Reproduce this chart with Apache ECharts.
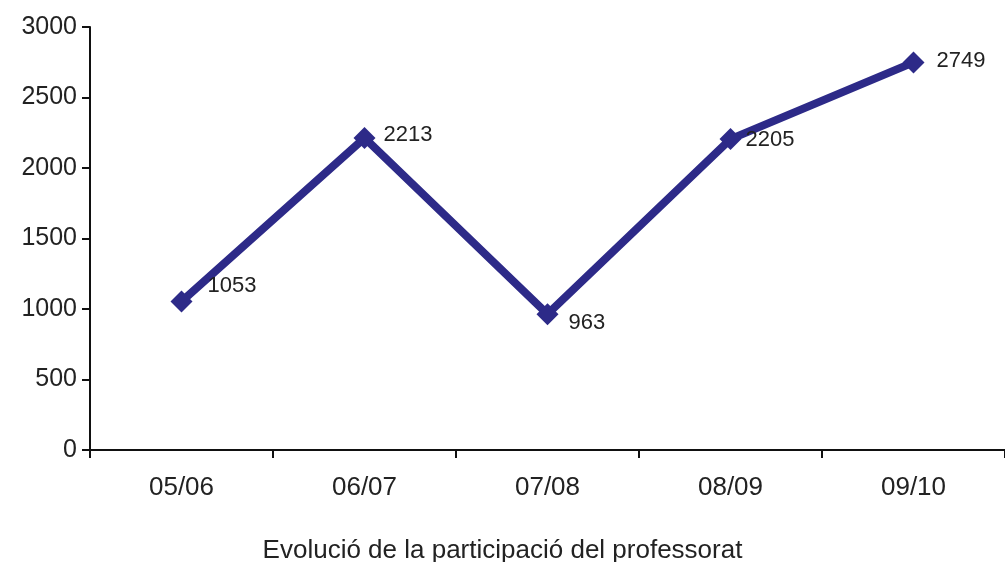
<!DOCTYPE html>
<html style="height: 100%">
<head>
<meta charset="utf-8">
<script src="https://cdn.jsdelivr.net/npm/echarts@6/dist/echarts.min.js"></script>
</head>
<body style="height: 100%; margin: 0; background: #fff">
<div id="container" style="width: 1005px; height: 562px"></div>
<script type="text/javascript">
var years = ['05/06', '06/07', '07/08', '08/09', '09/10'];
var teachers = [1053, 2213, 963, 2205, 2749];
var yTicks = [0, 500, 1000, 1500, 2000, 2500, 3000];
var caption = 'Evolució de la participació del professorat';

// nudges for the value labels, one per point
var nudge = [[3, -16], [-4, -3], [-2, 9], [-8, 1], [0, -1]];

var chart = echarts.init(document.getElementById('container'));
var font = 'Liberation Sans, Arial, sans-serif';

var option = {
    animation: false,
    title: {
        text: caption,
        left: 'center',
        top: 533,
        textStyle: { fontFamily: font, fontSize: 26, fontWeight: 'normal', color: '#222' }
    },
    grid: { left: 90, right: -3, top: 27, bottom: 112 },
    xAxis: {
        type: 'category',
        data: years,
        boundaryGap: true,
        axisLine: { lineStyle: { color: '#111', width: 2 } },
        axisTick: { show: true, length: 8, lineStyle: { color: '#111', width: 2 } },
        axisLabel: { fontFamily: font, fontSize: 26, color: '#222', margin: 25 }
    },
    yAxis: {
        type: 'value',
        min: yTicks[0],
        max: yTicks[yTicks.length - 1],
        interval: 500,
        splitLine: { show: false },
        axisLine: { show: true, lineStyle: { color: '#111', width: 2 } },
        axisTick: { show: true, length: 8, lineStyle: { color: '#111', width: 2 } },
        axisLabel: {
            fontFamily: font, fontSize: 25, color: '#222', margin: 13,
            formatter: function (v) { return String(v); }
        }
    },
    series: [{
        type: 'line',
        data: teachers.map(function (v, i) {
            return { value: v, label: { offset: nudge[i] } };
        }),
        symbol: 'diamond',
        symbolSize: 22,
        lineStyle: { color: '#2d2a88', width: 8 },
        itemStyle: { color: '#2d2a88' },
        label: {
            show: true,
            position: 'right',
            distance: 12,
            fontFamily: font,
            fontSize: 22,
            color: '#222'
        }
    }]
};
chart.setOption(option);
</script>
</body>
</html>
